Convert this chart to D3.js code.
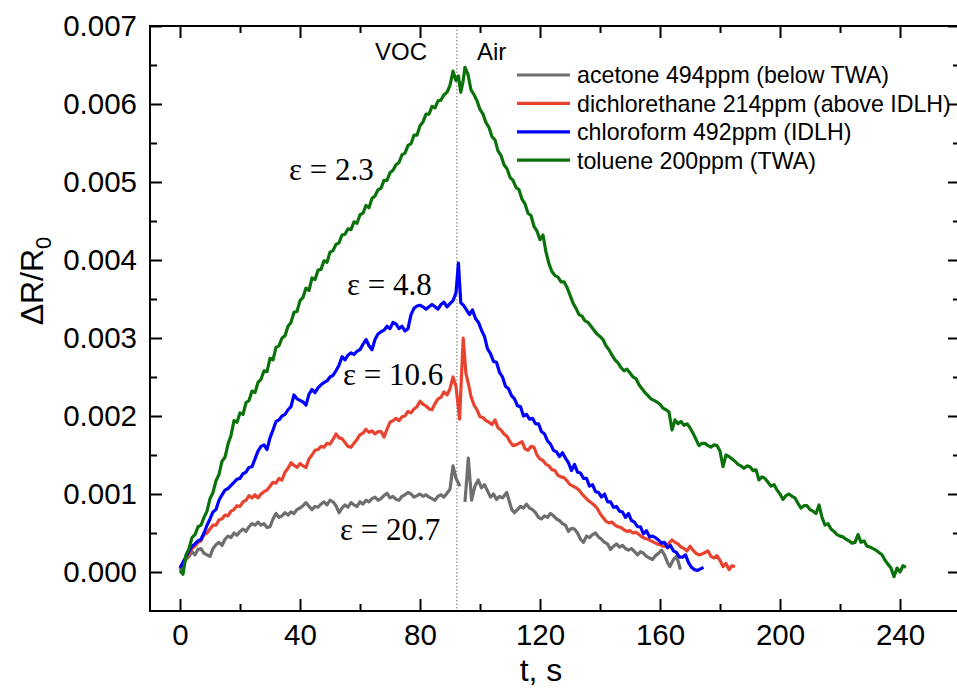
<!DOCTYPE html>
<html><head><meta charset="utf-8">
<script src="https://cdn.jsdelivr.net/npm/d3@7"></script>
<style>
html,body{margin:0;padding:0;background:#fff;}
svg{display:block;}
</style></head>
<body>
<svg id="chart" width="957" height="690"></svg>
<script>
// values in units of 1e-3 (ΔR/R0 ×1000); t in seconds
const UNIT = 1e-3;
const seriesNames = ["acetone 494ppm (below TWA)", "dichlorethane 214ppm (above IDLH)", "chloroform 492ppm (IDLH)", "toluene 200ppm (TWA)"];
const seriesColors = ["#6e6e6e", "#e8432e", "#0000ff", "#0b720b"];
const epsLabels = ["ε = 20.7", "ε = 10.6", "ε = 4.8", "ε = 2.3"];
const xTicks = [0, 40, 80, 120, 160, 200, 240];
const xMinor = [20, 60, 100, 140, 180, 220];
const yTicks = [0, 0.001, 0.002, 0.003, 0.004, 0.005, 0.006, 0.007];
const yTickLabels = ["0.000", "0.001", "0.002", "0.003", "0.004", "0.005", "0.006", "0.007"];
const yMinor = [0.0005, 0.0015, 0.0025, 0.0035, 0.0045, 0.0055, 0.0065];
const switchTime = 92.3;

const acetone = [[0,0.02],[1,0.1],[2,0.16],[3,0.2],[4,0.26],[5,0.22],[6,0.29],[7,0.3],[8,0.24],[9,0.22],[10,0.2],[11,0.3],[12,0.35],[13,0.38],[14,0.34],[15,0.42],[16,0.46],[17,0.44],[18,0.5],[19,0.47],[20,0.52],[21,0.55],[22,0.52],[23,0.58],[24,0.62],[25,0.6],[26,0.64],[27,0.6],[28,0.62],[29,0.57],[30,0.58],[31,0.68],[32,0.75],[33,0.7],[34,0.72],[35,0.76],[36,0.73],[37,0.77],[38,0.75],[39,0.8],[40,0.82],[41,0.85],[42,0.89],[43,0.84],[44,0.8],[45,0.84],[46,0.83],[47,0.87],[48,0.9],[49,0.86],[50,0.92],[51,0.9],[52,0.85],[53,0.76],[54,0.82],[55,0.86],[56,0.83],[57,0.89],[58,0.86],[59,0.84],[60,0.9],[61,0.87],[62,0.92],[63,0.9],[64,0.94],[65,0.96],[66,0.92],[67,0.94],[68,0.98],[69,1.01],[70,0.95],[71,0.97],[72,0.93],[73,0.92],[74,0.97],[75,0.99],[76,1.02],[77,1.0],[78,0.96],[79,0.98],[80,1.0],[81,0.97],[82,0.99],[83,0.96],[84,0.94],[85,0.92],[86,0.97],[87,0.99],[88,0.96],[89,1.01],[90,1.06],[91,1.36],[92,1.2],[93.3,1.1],[94,null],[95,0.9],[96.1,1.46],[97.2,0.92],[98.3,1.1],[99.4,1.18],[100.5,1.08],[101.5,1.12],[102.5,1.04],[103.5,0.96],[104.5,1.0],[105.5,0.93],[106.5,0.97],[107.5,0.95],[108.9,1.02],[110.6,0.8],[111.5,0.76],[112.5,0.8],[113.5,0.84],[114.5,0.82],[115.5,0.87],[116.5,0.82],[117.5,0.8],[118.5,0.76],[119.5,0.7],[120.5,0.68],[121.5,0.72],[122.5,0.7],[123.5,0.75],[124.5,0.72],[125.5,0.68],[126.5,0.66],[127.5,0.62],[128.5,0.6],[129.5,0.52],[130.5,0.56],[131.5,0.55],[132.5,0.5],[133.5,0.42],[134.5,0.38],[135.5,0.46],[136.5,0.44],[137.5,0.48],[138.5,0.5],[139.5,0.45],[140.5,0.42],[141.5,0.38],[142.5,0.36],[143.5,0.29],[144.5,0.33],[145.5,0.36],[146.5,0.32],[147.5,0.34],[148.5,0.3],[149.5,0.28],[150.5,0.3],[151.5,0.26],[152.5,0.22],[153.5,0.26],[154.5,0.24],[155.5,0.2],[156.5,0.18],[157.5,0.16],[158.5,0.21],[159.5,0.24],[160.5,0.28],[161.5,0.22],[162.5,0.12],[163.3,0.07],[164.5,0.16],[165.5,0.2],[166.2,0.12],[166.8,0.03]];

const dichlorethane = [[0,0.05],[1,0.12],[2,0.18],[3,0.24],[4,0.3],[5,0.33],[6,0.38],[7,0.4],[8,0.48],[9,0.5],[10,0.55],[11,0.6],[12,0.6],[13,0.67],[14,0.68],[15,0.73],[16,0.72],[17,0.78],[18,0.8],[19,0.85],[20,0.84],[21,0.9],[22,0.92],[23,0.98],[24,0.95],[25,0.99],[26,0.95],[27,1.0],[28,1.03],[29,1.05],[30,1.1],[31,1.15],[32,1.14],[33,1.2],[34,1.18],[35,1.28],[36,1.33],[37,1.4],[38,1.37],[39,1.34],[40,1.39],[41,1.36],[42,1.34],[43,1.45],[44,1.5],[45,1.56],[46,1.57],[47,1.61],[48,1.6],[49,1.65],[50,1.64],[51,1.7],[52,1.77],[53,1.72],[54,1.71],[55,1.66],[56,1.61],[57,1.6],[58,1.65],[59,1.7],[60,1.76],[61,1.78],[62,1.83],[63,1.79],[64,1.81],[65,1.77],[66,1.8],[67,1.8],[68,1.73],[69,1.83],[70,1.92],[71,1.94],[72,1.97],[73,1.94],[74,1.99],[75,2.0],[76,2.06],[77,2.04],[78,2.09],[79,2.12],[80,2.19],[81,2.15],[82,2.13],[83,2.09],[84,2.08],[85,2.16],[86,2.22],[87,2.24],[88,2.31],[89,2.27],[90,2.35],[91,2.5],[92,2.38],[93.2,1.96],[94.4,3.0],[95.3,2.55],[96.2,2.4],[97,2.25],[98,2.14],[99,2.08],[100,1.99],[101,1.98],[102,1.94],[103,1.92],[104,1.89],[105,1.95],[106,1.85],[107,1.82],[108,1.77],[109,1.74],[110,1.67],[111,1.62],[112,1.63],[113,1.65],[114,1.67],[115,1.58],[116,1.56],[117,1.61],[118,1.6],[119,1.5],[120,1.45],[121,1.43],[122,1.38],[123,1.36],[124,1.31],[125,1.3],[126,1.24],[127,1.22],[128,1.21],[129,1.17],[130,1.12],[131,1.1],[132,1.08],[133,1.05],[134,1.0],[135,0.96],[136,0.92],[137,0.89],[138,0.86],[139,0.82],[140,0.75],[141,0.7],[142,0.65],[143,0.63],[144,0.64],[145,0.6],[146,0.58],[147,0.57],[148,0.54],[149,0.52],[150,0.53],[151,0.5],[152,0.51],[153,0.48],[154,0.45],[155,0.43],[156,0.42],[157,0.4],[158,0.38],[159,0.36],[160,0.35],[161,0.33],[162,0.33],[163,0.37],[164,0.41],[165,0.38],[166,0.36],[167,0.32],[168,0.3],[169,0.27],[170,0.33],[171,0.28],[172,0.24],[173,0.22],[174,0.23],[175,0.25],[176,0.27],[177,0.2],[178,0.18],[179,0.21],[180,0.15],[181,0.07],[182,0.11],[183,0.03],[184,0.08],[185,0.07]];

const chloroform = [[0,0.05],[1,0.12],[2,0.2],[3,0.27],[4,0.33],[5,0.36],[6,0.4],[7,0.42],[8,0.5],[9,0.6],[10,0.68],[11,0.77],[12,0.8],[13,0.92],[14,0.99],[15,1.05],[16,1.07],[17,1.11],[18,1.15],[19,1.19],[20,1.2],[21,1.26],[22,1.28],[23,1.34],[24,1.35],[25,1.45],[26,1.55],[27,1.61],[28,1.63],[29,1.57],[30,1.72],[31,1.82],[32,1.93],[33,1.95],[34,2.0],[35,2.02],[36,2.08],[37,2.12],[38,2.27],[39,2.22],[40,2.2],[41,2.18],[42,2.14],[43,2.28],[44,2.34],[45,2.3],[46,2.36],[47,2.4],[48,2.43],[49,2.45],[50,2.5],[51,2.52],[52,2.58],[53,2.65],[54,2.76],[55,2.72],[56,2.78],[57,2.81],[58,2.79],[59,2.83],[60,2.85],[61,2.92],[62,2.98],[63,2.9],[64,2.85],[65,2.98],[66,3.05],[67,3.08],[68,3.1],[69,3.15],[70,3.12],[71,3.2],[72,3.18],[73,3.12],[74,3.15],[75,3.09],[76,3.12],[77,3.3],[78,3.38],[79,3.41],[80,3.42],[81,3.4],[82,3.37],[83,3.4],[84,3.43],[85,3.4],[86,3.37],[87,3.43],[88,3.46],[89,3.4],[90,3.44],[91,3.48],[92,3.58],[92.8,3.96],[93.6,3.45],[94.5,3.42],[95.5,3.36],[96.5,3.3],[97.5,3.36],[98.5,3.25],[99.5,3.2],[100.5,3.1],[101.5,3.02],[102.5,2.86],[103.5,2.8],[104.5,2.7],[105.5,2.69],[106.5,2.56],[107.5,2.5],[108.5,2.38],[109.5,2.35],[110.5,2.26],[111.5,2.22],[112.5,2.13],[113.5,2.12],[114.5,2.0],[115.5,2.02],[116.5,1.96],[117.5,1.97],[118.5,1.9],[119.5,1.9],[120.5,1.8],[121.5,1.77],[122.5,1.68],[123.5,1.64],[124.5,1.56],[125.5,1.54],[126.5,1.48],[127.5,1.53],[128.5,1.46],[129.5,1.4],[130.5,1.3],[131.5,1.38],[132.5,1.28],[133.5,1.27],[134.5,1.2],[135.5,1.2],[136.5,1.1],[137.5,1.12],[138.5,1.03],[139.5,1.02],[140.5,0.96],[141.5,1.0],[142.5,0.9],[143.5,0.9],[144.5,0.83],[145.5,0.84],[146.5,0.78],[147.5,0.77],[148.5,0.7],[149.5,0.75],[150.5,0.66],[151.5,0.64],[152.5,0.58],[153.5,0.58],[154.5,0.49],[155.5,0.53],[156.5,0.45],[157.5,0.46],[158.5,0.44],[159.5,0.41],[160.5,0.37],[161.5,0.38],[162.5,0.31],[163.5,0.34],[164.5,0.27],[165.5,0.25],[166.5,0.19],[167.5,0.19],[168.5,0.22],[169.5,0.12],[170.5,0.06],[171.5,0.03],[172.5,0.02],[173.5,0.04],[174.5,0.06]];

const toluene = [[0,0.02],[1,-0.03],[2,0.22],[3,0.3],[4,0.44],[5,0.48],[6,0.58],[7,0.6],[8,0.7],[9,0.78],[10,0.94],[11,1.02],[12,1.17],[13,1.25],[14,1.42],[15,1.47],[16,1.64],[17,1.75],[18,1.94],[19,1.92],[20,2.04],[21,2.02],[22,2.17],[23,2.2],[24,2.32],[25,2.3],[26,2.43],[27,2.47],[28,2.58],[29,2.57],[30,2.74],[31,2.72],[32,2.88],[33,2.9],[34,3.0],[35,3.03],[36,3.15],[37,3.2],[38,3.33],[39,3.34],[40,3.48],[41,3.52],[42,3.64],[43,3.61],[44,3.77],[45,3.75],[46,3.87],[47,3.88],[48,3.99],[49,3.97],[50,4.1],[51,4.12],[52,4.2],[53,4.22],[54,4.32],[55,4.33],[56,4.4],[57,4.39],[58,4.49],[59,4.47],[60,4.58],[61,4.6],[62,4.7],[63,4.67],[64,4.79],[65,4.82],[66,4.9],[67,4.92],[68,5.02],[69,5.02],[70,5.12],[71,5.15],[72,5.22],[73,5.25],[74,5.35],[75,5.37],[76,5.47],[77,5.49],[78,5.6],[79,5.6],[80,5.72],[81,5.77],[82,5.87],[83,5.87],[84,5.97],[85,5.95],[86,6.04],[87,6.05],[88,6.12],[89,6.15],[90,6.24],[91,6.42],[92,6.3],[92.8,6.36],[93.6,6.15],[94.4,6.3],[95,6.47],[96,6.38],[97,6.18],[98,6.12],[99,6.04],[100,5.93],[101,5.87],[102,5.76],[103,5.7],[104,5.58],[105,5.54],[106,5.4],[107,5.34],[108,5.22],[109,5.17],[110,5.06],[111,5.02],[112,4.93],[113,4.9],[114,4.78],[115,4.72],[116,4.6],[117,4.57],[118,4.43],[119,4.37],[120,4.26],[121,4.32],[122,4.1],[123,3.95],[124,3.85],[125,3.8],[126,3.78],[127,3.72],[128,3.72],[129,3.65],[130,3.55],[131,3.45],[132,3.38],[133,3.3],[134,3.28],[135,3.22],[136,3.2],[137,3.15],[138,3.1],[139,3.05],[140,3.02],[141,2.98],[142,2.9],[143,2.85],[144,2.78],[145,2.72],[146,2.68],[147,2.62],[148,2.58],[149,2.6],[150,2.55],[151,2.5],[152,2.48],[153,2.4],[154,2.35],[155,2.3],[156,2.26],[157,2.22],[158,2.2],[159,2.18],[160,2.15],[161,2.1],[162,2.08],[163,2.05],[164,1.82],[165,1.95],[166,1.9],[167,1.93],[168,1.88],[169,1.9],[170,1.85],[171,1.78],[172,1.7],[173,1.62],[174,1.65],[175,1.65],[176,1.62],[177,1.6],[178,1.63],[179,1.62],[180,1.55],[181,1.35],[182,1.5],[183,1.48],[184,1.45],[185,1.42],[186,1.38],[187,1.36],[188,1.33],[189,1.36],[190,1.35],[191,1.3],[192,1.31],[193,1.18],[194,1.22],[195,1.2],[196,1.15],[197,1.1],[198,1.12],[199,1.05],[200,1.0],[201,0.93],[202,0.98],[203,1.0],[204,0.97],[205,0.95],[206,0.88],[207,0.82],[208,0.85],[209,0.85],[210,0.8],[211,0.78],[212,0.75],[213,0.86],[214,0.7],[215,0.6],[216,0.62],[217,0.55],[218,0.52],[219,0.48],[220,0.46],[221,0.45],[222,0.42],[223,0.4],[224,0.37],[225,0.38],[226,0.48],[227,0.38],[228,0.4],[229,0.33],[230,0.32],[231,0.3],[232,0.28],[233,0.25],[234,0.22],[235,0.15],[236,0.1],[237,0.05],[238,-0.06],[239,0.05],[240,0.0],[241,0.08],[242,0.06]];

const allSeries = [acetone, dichlorethane, chloroform, toluene];

const SANS = "'Liberation Sans', Arial, sans-serif";
const SERIF = "'Liberation Serif', 'Times New Roman', serif";
const svg = d3.select("#chart");
const L = 150, R = 960, T = 26, B = 611;
const x = d3.scaleLinear().domain([-10, 260]).range([L, R]);
const y = d3.scaleLinear().domain([-0.0005, 0.007]).range([B, T]);

// dotted switch line
svg.append("line").attr("x1", x(switchTime)).attr("x2", x(switchTime)).attr("y1", T).attr("y2", B)
  .attr("stroke", "#888").attr("stroke-width", 1.2).attr("stroke-dasharray", "1.5,2");

// lines
const line = d3.line().defined(d => d[1] !== null).x(d => x(d[0])).y(d => y(d[1] * UNIT));
allSeries.forEach((s, i) => {
  svg.append("path").datum(s).attr("d", line).attr("fill", "none")
    .attr("stroke", seriesColors[i]).attr("stroke-width", 3.2).attr("stroke-linejoin", "round");
});

// axes
function styleAxis(g) {
  g.select(".domain").remove();
  g.selectAll(".tick line").attr("stroke", "#000").attr("stroke-width", 2);
  g.selectAll("text").style("font-size", "29.5px").style("font-family", SANS).attr("fill", "#000");
}
svg.append("g").attr("transform", `translate(0,${B})`)
  .call(d3.axisBottom(x).tickValues(xTicks).tickSize(-12).tickPadding(13).tickFormat(d3.format("d"))).call(styleAxis);
svg.append("g").attr("transform", `translate(0,${B})`)
  .call(d3.axisBottom(x).tickValues(xMinor).tickSize(-7).tickFormat("")).call(styleAxis);
svg.append("g").attr("transform", `translate(0,${T})`)
  .call(d3.axisTop(x).tickValues(xTicks).tickSize(-12).tickFormat("")).call(styleAxis);
svg.append("g").attr("transform", `translate(0,${T})`)
  .call(d3.axisTop(x).tickValues(xMinor).tickSize(-7).tickFormat("")).call(styleAxis);
svg.append("g").attr("transform", `translate(${L},0)`)
  .call(d3.axisLeft(y).tickValues(yTicks).tickSize(-12).tickPadding(13).tickFormat((d, i) => yTickLabels[i])).call(styleAxis);
svg.append("g").attr("transform", `translate(${L},0)`)
  .call(d3.axisLeft(y).tickValues(yMinor).tickSize(-7).tickFormat("")).call(styleAxis);
svg.append("g").attr("transform", `translate(${R},0)`)
  .call(d3.axisRight(y).tickValues(yTicks).tickSize(-12).tickFormat("")).call(styleAxis);
svg.append("g").attr("transform", `translate(${R},0)`)
  .call(d3.axisRight(y).tickValues(yMinor).tickSize(-7).tickFormat("")).call(styleAxis);

// frame
svg.append("rect").attr("x", L).attr("y", T).attr("width", R - L).attr("height", B - T)
  .attr("fill", "none").attr("stroke", "#000").attr("stroke-width", 2);

// axis labels
svg.append("text").attr("x", 541).attr("y", 681).attr("text-anchor", "middle")
  .style("font-family", SANS).style("font-size", "32px").text("t, s");
const yl = svg.append("text").attr("transform", "translate(43,281) rotate(-90)")
  .attr("text-anchor", "middle").style("font-family", SANS).style("font-size", "32px");
yl.append("tspan").text("ΔR/R");
yl.append("tspan").style("font-size", "22px").attr("dy", 8).text("0");

// VOC / Air
svg.append("text").attr("x", 427).attr("y", 60).attr("text-anchor", "end")
  .style("font-family", SANS).style("font-size", "24px").text("VOC");
svg.append("text").attr("x", 477).attr("y", 60)
  .style("font-family", SANS).style("font-size", "24px").text("Air");

// epsilon labels
const epsPos = [[340, 540], [343, 385], [347, 295], [289, 180]];
epsLabels.forEach((t, i) => {
  svg.append("text").attr("x", epsPos[i][0]).attr("y", epsPos[i][1])
    .style("font-family", SERIF).style("font-size", "31px").text(t);
});

// legend
const lg = svg.append("g");
seriesNames.forEach((n, i) => {
  const yy = 75 + i * 28.4;
  lg.append("line").attr("x1", 517).attr("x2", 570).attr("y1", yy).attr("y2", yy)
    .attr("stroke", seriesColors[i]).attr("stroke-width", 3.2);
  lg.append("text").attr("x", 577).attr("y", yy).attr("dy", "0.36em")
    .style("font-family", SANS).style("font-size", "23.2px").text(n);
});
</script>
</body></html>
